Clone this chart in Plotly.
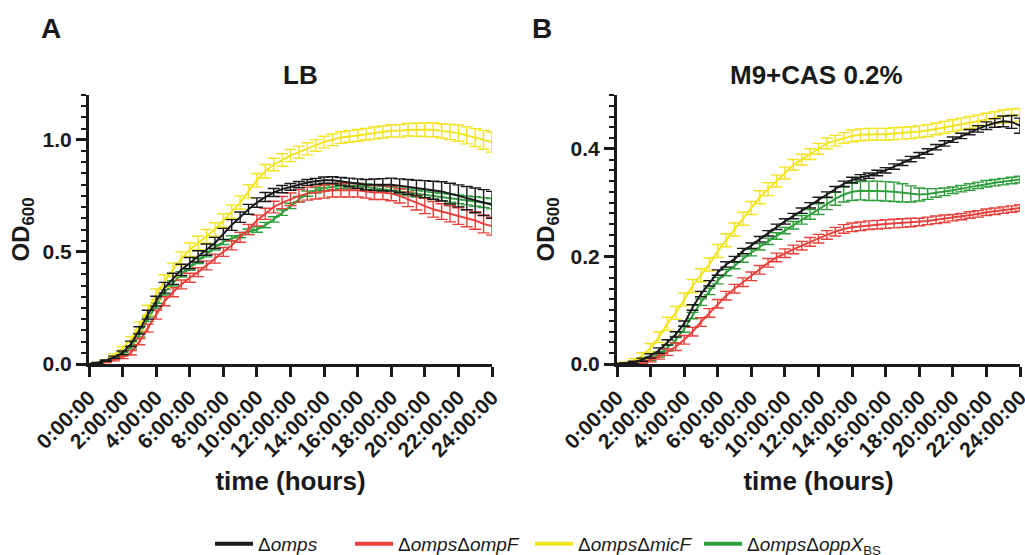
import plotly.graph_objects as go

# ---------------- data ----------------
time_h = [0, 0.5, 1, 1.5, 2, 2.5, 3, 3.5, 4, 4.5, 5, 5.5, 6, 6.5, 7, 7.5, 8, 8.5, 9, 9.5,
          10, 10.5, 11, 11.5, 12, 12.5, 13, 13.5, 14, 14.5, 15, 15.5, 16, 16.5, 17, 17.5,
          18, 18.5, 19, 19.5, 20, 20.5, 21, 21.5, 22, 22.5, 23, 23.5, 24]

tick_vals = [0, 2, 4, 6, 8, 10, 12, 14, 16, 18, 20, 22, 24]
tick_text = ["0:00:00", "2:00:00", "4:00:00", "6:00:00", "8:00:00", "10:00:00", "12:00:00",
             "14:00:00", "16:00:00", "18:00:00", "20:00:00", "22:00:00", "24:00:00"]

series_names = ["Δ<i>omps</i>", "Δ<i>omps</i>Δ<i>ompF</i>", "Δ<i>omps</i>Δ<i>micF</i>",
                "Δ<i>omps</i>Δ<i>oppX</i><sub>BS</sub>"]
series_colors = ["#1a1a1a", "#e8413b", "#f2e41e", "#2f9e3c"]

# Panel A - LB
lb_omps = [0.000, 0.005, 0.015, 0.030, 0.050, 0.090, 0.150, 0.220, 0.280, 0.340, 0.380, 0.420,
           0.450, 0.480, 0.510, 0.540, 0.580, 0.620, 0.655, 0.690, 0.720, 0.745, 0.765, 0.780,
           0.790, 0.800, 0.810, 0.815, 0.820, 0.820, 0.815, 0.810, 0.805, 0.800, 0.800, 0.800,
           0.800, 0.795, 0.790, 0.785, 0.780, 0.775, 0.770, 0.760, 0.750, 0.740, 0.730, 0.720, 0.710]
lb_omps_err = [0.001, 0.002, 0.003, 0.005, 0.008, 0.012, 0.016, 0.020, 0.022, 0.024, 0.025, 0.025,
               0.025, 0.025, 0.025, 0.025, 0.025, 0.024, 0.023, 0.022, 0.021, 0.020, 0.018, 0.016,
               0.015, 0.014, 0.013, 0.013, 0.014, 0.015, 0.017, 0.019, 0.021, 0.023, 0.025, 0.027,
               0.029, 0.031, 0.033, 0.035, 0.038, 0.040, 0.043, 0.046, 0.049, 0.052, 0.055, 0.058, 0.060]

lb_ompF = [0.000, 0.003, 0.008, 0.018, 0.030, 0.050, 0.100, 0.160, 0.220, 0.280, 0.320, 0.355,
           0.385, 0.410, 0.440, 0.470, 0.500, 0.530, 0.565, 0.600, 0.640, 0.670, 0.700, 0.720,
           0.735, 0.750, 0.760, 0.765, 0.770, 0.775, 0.775, 0.775, 0.775, 0.770, 0.765, 0.765,
           0.760, 0.750, 0.735, 0.720, 0.705, 0.690, 0.680, 0.670, 0.660, 0.650, 0.640, 0.625, 0.615]
lb_ompF_err = [0.001, 0.001, 0.002, 0.004, 0.006, 0.010, 0.014, 0.018, 0.020, 0.020, 0.020, 0.020,
               0.020, 0.020, 0.020, 0.020, 0.020, 0.021, 0.022, 0.023, 0.024, 0.025, 0.026, 0.027,
               0.028, 0.028, 0.029, 0.029, 0.030, 0.030, 0.030, 0.030, 0.030, 0.030, 0.031, 0.031,
               0.032, 0.032, 0.033, 0.033, 0.034, 0.035, 0.035, 0.036, 0.037, 0.038, 0.039, 0.040, 0.040]

lb_micF = [0.000, 0.005, 0.015, 0.040, 0.070, 0.110, 0.170, 0.240, 0.310, 0.370, 0.420, 0.470,
           0.510, 0.540, 0.570, 0.600, 0.640, 0.680, 0.720, 0.770, 0.820, 0.860, 0.890, 0.910,
           0.930, 0.945, 0.960, 0.975, 0.990, 1.000, 1.010, 1.015, 1.020, 1.025, 1.030, 1.035,
           1.040, 1.040, 1.045, 1.045, 1.045, 1.045, 1.040, 1.035, 1.030, 1.020, 1.010, 1.000, 0.990]
lb_micF_err = [0.002, 0.002, 0.003, 0.005, 0.008, 0.012, 0.018, 0.022, 0.025, 0.028, 0.030, 0.030,
               0.030, 0.030, 0.030, 0.030, 0.030, 0.030, 0.030, 0.030, 0.030, 0.030, 0.028, 0.028,
               0.027, 0.027, 0.027, 0.026, 0.026, 0.026, 0.026, 0.026, 0.026, 0.026, 0.027, 0.027,
               0.027, 0.028, 0.028, 0.029, 0.030, 0.031, 0.032, 0.034, 0.036, 0.038, 0.040, 0.042, 0.045]

lb_oppX = [0.000, 0.004, 0.010, 0.025, 0.045, 0.075, 0.130, 0.200, 0.260, 0.320, 0.360, 0.400,
           0.430, 0.460, 0.490, 0.520, 0.545, 0.560, 0.575, 0.590, 0.600, 0.620, 0.645, 0.675,
           0.705, 0.735, 0.760, 0.775, 0.785, 0.790, 0.795, 0.795, 0.795, 0.790, 0.785, 0.780,
           0.775, 0.770, 0.765, 0.760, 0.755, 0.750, 0.745, 0.740, 0.735, 0.730, 0.725, 0.720, 0.715]
lb_oppX_err = [0.001, 0.001, 0.002, 0.003, 0.005, 0.007, 0.009, 0.010, 0.011, 0.012, 0.012, 0.012,
               0.012, 0.012, 0.012, 0.012, 0.012, 0.012, 0.012, 0.012, 0.012, 0.012, 0.012, 0.012,
               0.012, 0.012, 0.012, 0.012, 0.012, 0.012, 0.012, 0.012, 0.012, 0.013, 0.013, 0.013,
               0.014, 0.014, 0.015, 0.015, 0.016, 0.016, 0.017, 0.018, 0.019, 0.020, 0.021, 0.022, 0.023]

# Panel B - M9+CAS 0.2%
m9_omps = [0.000, 0.001, 0.003, 0.008, 0.015, 0.025, 0.040, 0.055, 0.075, 0.105, 0.130, 0.150,
           0.170, 0.185, 0.195, 0.210, 0.220, 0.232, 0.243, 0.255, 0.265, 0.275, 0.285, 0.295,
           0.305, 0.315, 0.325, 0.335, 0.342, 0.347, 0.350, 0.355, 0.360, 0.367, 0.374, 0.381,
           0.388, 0.395, 0.403, 0.410, 0.417, 0.424, 0.431, 0.437, 0.443, 0.448, 0.451, 0.450, 0.443]
m9_omps_err = [0.001, 0.001, 0.002, 0.003, 0.004, 0.005, 0.005, 0.005, 0.005, 0.005, 0.005, 0.005,
               0.005, 0.005, 0.005, 0.005, 0.005, 0.005, 0.005, 0.005, 0.005, 0.005, 0.005, 0.005,
               0.005, 0.005, 0.005, 0.005, 0.005, 0.005, 0.005, 0.005, 0.005, 0.005, 0.005, 0.005,
               0.005, 0.005, 0.005, 0.005, 0.005, 0.005, 0.005, 0.006, 0.007, 0.008, 0.010, 0.012, 0.014]

m9_ompF = [0.000, 0.000, 0.002, 0.004, 0.008, 0.014, 0.022, 0.032, 0.045, 0.060, 0.078, 0.095,
           0.112, 0.127, 0.140, 0.152, 0.163, 0.175, 0.188, 0.198, 0.206, 0.213, 0.220, 0.227,
           0.233, 0.240, 0.246, 0.251, 0.254, 0.256, 0.258, 0.259, 0.260, 0.261, 0.262, 0.263,
           0.264, 0.266, 0.268, 0.270, 0.272, 0.274, 0.277, 0.279, 0.282, 0.284, 0.286, 0.288, 0.290]
m9_ompF_err = [0.001, 0.001, 0.002, 0.003, 0.004, 0.005, 0.006, 0.007, 0.008, 0.008, 0.008, 0.008,
               0.008, 0.008, 0.008, 0.008, 0.008, 0.008, 0.008, 0.008, 0.008, 0.008, 0.008, 0.008,
               0.008, 0.008, 0.008, 0.008, 0.008, 0.008, 0.008, 0.008, 0.008, 0.008, 0.008, 0.008,
               0.007, 0.007, 0.007, 0.007, 0.006, 0.006, 0.006, 0.006, 0.006, 0.006, 0.006, 0.006, 0.006]

m9_micF = [0.000, 0.002, 0.006, 0.015, 0.030, 0.050, 0.075, 0.095, 0.120, 0.145, 0.165, 0.185,
           0.210, 0.230, 0.250, 0.270, 0.290, 0.310, 0.325, 0.340, 0.355, 0.370, 0.380, 0.390,
           0.400, 0.410, 0.415, 0.420, 0.424, 0.426, 0.427, 0.427, 0.427, 0.428, 0.429, 0.430,
           0.432, 0.434, 0.437, 0.440, 0.443, 0.446, 0.449, 0.452, 0.455, 0.458, 0.460, 0.462, 0.463]
m9_micF_err = [0.001, 0.002, 0.004, 0.006, 0.008, 0.010, 0.012, 0.012, 0.012, 0.012, 0.012, 0.012,
               0.012, 0.012, 0.012, 0.012, 0.012, 0.012, 0.012, 0.011, 0.011, 0.010, 0.010, 0.010,
               0.010, 0.010, 0.010, 0.010, 0.011, 0.011, 0.011, 0.011, 0.011, 0.011, 0.011, 0.011,
               0.011, 0.011, 0.011, 0.011, 0.011, 0.011, 0.011, 0.011, 0.011, 0.011, 0.012, 0.012, 0.012]

m9_oppX = [0.000, 0.001, 0.002, 0.005, 0.010, 0.018, 0.030, 0.045, 0.065, 0.090, 0.115, 0.135,
           0.155, 0.170, 0.183, 0.195, 0.207, 0.218, 0.228, 0.238, 0.248, 0.258, 0.268, 0.278,
           0.288, 0.298, 0.307, 0.315, 0.320, 0.322, 0.322, 0.322, 0.321, 0.320, 0.318, 0.316,
           0.315, 0.316, 0.318, 0.320, 0.323, 0.326, 0.329, 0.332, 0.335, 0.337, 0.339, 0.341, 0.343]
m9_oppX_err = [0.001, 0.001, 0.002, 0.003, 0.004, 0.005, 0.006, 0.006, 0.006, 0.006, 0.006, 0.006,
               0.006, 0.006, 0.006, 0.006, 0.006, 0.006, 0.006, 0.006, 0.006, 0.007, 0.008, 0.009,
               0.010, 0.011, 0.012, 0.014, 0.016, 0.017, 0.018, 0.018, 0.018, 0.018, 0.017, 0.015,
               0.012, 0.010, 0.008, 0.007, 0.006, 0.006, 0.006, 0.006, 0.006, 0.006, 0.006, 0.006, 0.006]

panel_titles = ["<b>LB</b>", "<b>M9+CAS 0.2%</b>"]
panel_letters = ["<b>A</b>", "<b>B</b>"]

# ---------------- figure ----------------
FONT = "Liberation Sans, Arial, Helvetica, sans-serif"
AX = "#1a1a1a"

panels = [
    [lb_omps, lb_ompF, lb_micF, lb_oppX],
    [m9_omps, m9_ompF, m9_micF, m9_oppX],
]
panel_errs = [
    [lb_omps_err, lb_ompF_err, lb_micF_err, lb_oppX_err],
    [m9_omps_err, m9_ompF_err, m9_micF_err, m9_oppX_err],
]

fig = go.Figure()
draw_order = [3, 1, 2, 0]  # green, red, yellow, black on top
for p in range(2):
    xa = "x" if p == 0 else "x2"
    ya = "y" if p == 0 else "y2"
    for s in draw_order:
        fig.add_trace(go.Scatter(
            x=time_h, y=panels[p][s], mode="lines",
            line=dict(color=series_colors[s], width=2),
            error_y=dict(type="data", array=panel_errs[p][s], visible=True,
                         color=series_colors[s], thickness=1.4, width=6),
            name=series_names[s], showlegend=False,
            xaxis=xa, yaxis=ya, cliponaxis=False,
        ))

# legend entries (one legend per entry, placed like the reference)
legend_ids = ["legend", "legend2", "legend3", "legend4"]
legend_line_x = [217, 357, 537, 706]
for s in range(4):
    fig.add_trace(go.Scatter(
        x=[None], y=[None], mode="lines",
        line=dict(color=series_colors[s], width=4),
        name=series_names[s], showlegend=True, legend=legend_ids[s],
        xaxis="x", yaxis="y",
    ))

common_axis = dict(showline=True, linewidth=3, linecolor=AX, ticks="outside",
                   tickwidth=3, tickcolor=AX, showgrid=False, zeroline=False,
                   ticklabeloverflow="allow",
                   tickfont=dict(family=FONT, size=21, color=AX, weight="bold"))

xdom = [[89 / 1025, 492 / 1025], [617 / 1025, 1020 / 1025]]
ydom = [1 - 364 / 555, 1 - 95 / 555]

for p, (yr, ytv, ymin) in enumerate([(1.2, [0, 0.5, 1.0], 0.05), (0.5, [0, 0.2, 0.4], 0.02)]):
    xk = "xaxis" if p == 0 else "xaxis2"
    yk = "yaxis" if p == 0 else "yaxis2"
    fig.update_layout(**{
        xk: dict(common_axis, domain=xdom[p], range=[0, 24], anchor="y" if p == 0 else "y2",
                 tickvals=tick_vals, ticktext=tick_text, tickangle=-45, ticklen=10,
                 title=dict(text="<b>time (hours)</b>",
                            font=dict(family=FONT, size=26, color=AX), standoff=12)),
        yk: dict(common_axis, domain=ydom, range=[0, yr], anchor="x" if p == 0 else "x2",
                 tickvals=ytv, tickformat=".1f", ticklen=10,
                 minor=dict(dtick=ymin, tick0=0, ticks="outside", ticklen=5, tickwidth=2,
                            tickcolor=AX, showgrid=False),
                 title=dict(text="<b>OD<sub>600</sub></b>",
                            font=dict(family=FONT, size=24, color=AX),
                            standoff=7 if p == 0 else 10)),
    })

annotations = []
title_x = [300, 816]
letter_x = [51, 542]
for p in range(2):
    annotations.append(dict(text=panel_titles[p], x=title_x[p] / 1025, y=1 - 75 / 555,
                            xref="paper", yref="paper", showarrow=False,
                            xanchor="center", yanchor="middle",
                            font=dict(family=FONT, size=26, color=AX)))
    annotations.append(dict(text=panel_letters[p], x=letter_x[p] / 1025, y=1 - 28 / 555,
                            xref="paper", yref="paper", showarrow=False,
                            xanchor="center", yanchor="middle",
                            font=dict(family=FONT, size=28, color=AX)))

legend_layout = {}
for s in range(4):
    legend_layout[legend_ids[s]] = dict(
        orientation="h", x=(legend_line_x[s] - 7) / 1025, y=1 - 544 / 555,
        xanchor="left", yanchor="middle",
        font=dict(family=FONT, size=19, color=AX),
        bgcolor="rgba(0,0,0,0)", itemwidth=38)

fig.update_layout(
    width=1025, height=555,
    margin=dict(l=0, r=0, t=0, b=0, autoexpand=False),
    paper_bgcolor="white", plot_bgcolor="white",
    annotations=annotations,
    showlegend=True,
    **legend_layout,
)

fig.write_html("out.html", config={"displayModeBar": False},
               post_script="document.body.style.margin='0px';document.body.style.overflow='hidden';")
